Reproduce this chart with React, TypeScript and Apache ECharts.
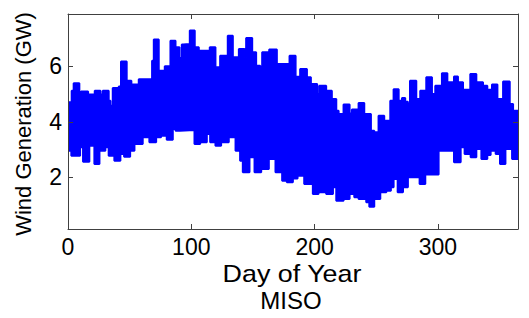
import React, { useEffect, useRef } from "react";
import * as echarts from "echarts";

// Upper envelope of the hourly wind generation band: [day, GW]
const upperDays = [0, 3.0, 4.6, 9.2, 10.6, 16.3, 21.7, 26.3, 28.2, 33.0, 34.4, 36.3, 41.2, 43.0, 47.6, 51.4, 52.2, 57.4, 68.2, 69.6, 73.6, 78.5, 83.1, 87.2, 90.4, 92.3, 93.4, 98.8, 102.8, 106.1, 115.0, 119.6, 123.4, 129.6, 133.7, 138.6, 143.2, 144.5, 149.4, 152.6, 155.9, 157.5, 163.2, 169.4, 179.7, 184.6, 188.3, 193.8, 197.0, 202.1, 203.8, 209.4, 214.0, 217.6, 219.5, 223.5, 228.4, 230.3, 235.7, 240.3, 245.7, 248.4, 251.9, 256.5, 261.4, 264.1, 268.2, 270.9, 273.5, 275.7, 277.4, 282.5, 285.7, 290.6, 295.2, 297.9, 303.3, 307.7, 313.1, 316.3, 320.4, 326.3, 331.2, 336.6, 340.1, 343.9, 348.3, 352.9, 358.3, 361.0, 365];
const upperVals = [4.70, 5.12, 5.39, 4.52, 5.09, 4.98, 5.12, 4.98, 5.12, 4.76, 4.58, 5.22, 5.27, 6.17, 5.48, 5.20, 5.34, 5.53, 6.20, 6.96, 5.84, 6.00, 6.92, 6.68, 6.30, 6.78, 6.80, 7.29, 6.68, 6.56, 6.68, 5.96, 6.38, 7.10, 6.32, 6.62, 6.32, 7.02, 6.50, 6.02, 5.84, 6.50, 6.60, 6.08, 6.38, 5.62, 5.90, 5.60, 5.36, 5.00, 5.30, 5.12, 4.82, 4.40, 4.28, 4.62, 4.30, 4.44, 4.68, 4.28, 3.68, 3.62, 4.22, 4.04, 4.76, 5.17, 4.76, 4.86, 4.72, 4.64, 5.48, 4.82, 5.12, 5.60, 5.00, 5.30, 5.75, 5.42, 5.63, 5.42, 5.15, 5.72, 5.42, 5.30, 5.15, 5.34, 4.82, 5.45, 4.64, 4.40, 4.40];

// Lower envelope of the band: [day, GW]
const lowerDays = [0, 2.7, 9.8, 12.2, 17.3, 21.4, 25.5, 30.3, 33.0, 37.6, 42.5, 45.5, 50.4, 53.9, 60.6, 66.0, 71.5, 75.5, 80.1, 85.0, 87.2, 90.7, 102.6, 107.2, 112.6, 115.3, 119.6, 124.2, 130.4, 135.9, 139.6, 141.8, 147.2, 151.3, 156.7, 162.9, 168.3, 173.7, 177.5, 182.4, 186.2, 191.6, 198.6, 203.2, 209.4, 214.9, 217.6, 223.5, 228.4, 232.2, 235.7, 241.9, 244.4, 248.4, 253.3, 258.2, 261.9, 264.1, 267.4, 271.7, 275.7, 285.2, 289.8, 300.6, 313.1, 318.5, 321.7, 326.6, 331.2, 335.3, 340.1, 342.8, 346.9, 350.4, 354.8, 360.2, 365];
const lowerVals = [2.96, 2.78, 3.08, 2.56, 3.14, 2.48, 2.96, 3.08, 2.78, 2.60, 2.84, 2.74, 2.96, 3.20, 3.44, 3.26, 3.44, 3.50, 3.35, 3.74, 3.68, 3.70, 3.20, 3.26, 3.56, 3.26, 3.14, 3.26, 3.44, 2.96, 2.60, 2.18, 2.72, 2.18, 2.30, 2.66, 2.18, 1.88, 1.82, 1.96, 2.06, 1.76, 1.40, 1.46, 1.40, 1.64, 1.16, 1.22, 1.40, 1.28, 1.22, 1.10, 0.94, 1.22, 1.46, 1.52, 1.64, 1.94, 1.46, 1.64, 2.00, 1.76, 2.10, 2.96, 2.54, 3.08, 2.84, 2.72, 3.02, 2.66, 2.80, 2.96, 2.84, 2.48, 3.02, 2.66, 2.66];

const xTicks = [0, 100, 200, 300];
const yTicks = [2, 4, 6];
const xLabel = "Day of Year";
const yLabel = "Wind Generation (GW)";
const subtitle = "MISO";

const FONT = "Liberation Sans, Arial, sans-serif";
const FRAME = "#404040";

export default function App() {
  const ref = useRef<HTMLDivElement>(null);
  useEffect(() => {
    if (!ref.current) return;
    const chart = echarts.init(ref.current, undefined, { renderer: "svg" });
    const upper = upperDays.map((d, i) => [d, upperVals[i]]);
    const lower = lowerDays.map((d, i) => [d, lowerVals[i]]);
    const axisCommon = {
      axisLine: { show: true, onZero: false, lineStyle: { color: FRAME, width: 1 } },
      splitLine: { show: false },
      z: 10,
    };
    chart.setOption({
      animation: false,
      backgroundColor: "#ffffff",
      grid: { left: 68, right: 11, top: 14, bottom: 89 },
      xAxis: [
        {
          type: "value", min: 0, max: 365, position: "bottom",
          ...axisCommon,
          axisTick: { show: true, inside: true, length: 5, customValues: xTicks, lineStyle: { color: FRAME } },
          axisLabel: { show: true, customValues: xTicks, margin: 6, fontFamily: FONT, fontSize: 23, color: "#000" },
        },
        {
          type: "value", min: 0, max: 365, position: "top",
          ...axisCommon,
          axisTick: { show: true, inside: true, length: 5, customValues: xTicks, lineStyle: { color: FRAME } },
          axisLabel: { show: false },
        },
      ],
      yAxis: [
        {
          type: "value", min: 0.14, max: 7.88, position: "left",
          ...axisCommon,
          axisTick: { show: true, inside: true, length: 5, customValues: yTicks, lineStyle: { color: FRAME } },
          axisLabel: { show: true, customValues: yTicks, margin: 6, fontFamily: FONT, fontSize: 23, color: "#000" },
        },
        {
          type: "value", min: 0.14, max: 7.88, position: "right",
          ...axisCommon,
          axisTick: { show: true, inside: true, length: 5, customValues: yTicks, lineStyle: { color: FRAME } },
          axisLabel: { show: false },
        },
      ],
      series: [
        {
          type: "line", xAxisIndex: 0, yAxisIndex: 0, data: upper, step: "end",
          symbol: "none", lineStyle: { color: "#0000ff", width: 2 },
          areaStyle: { color: "#0000ff", opacity: 1, origin: "start" },
          z: 2,
        },
        {
          type: "line", xAxisIndex: 0, yAxisIndex: 0, data: lower, step: "end",
          symbol: "none", lineStyle: { color: "#0000ff", width: 2 },
          areaStyle: { color: "#ffffff", opacity: 1, origin: "start" },
          z: 3,
        },
      ],
      graphic: [
        {
          type: "text", x: 23, y: 124, rotation: Math.PI / 2,
          style: { text: yLabel, font: `22px ${FONT}`, fill: "#000", align: "center", verticalAlign: "middle" },
        },
        {
          type: "text", x: 292, y: 262, scaleX: 1.12,
          style: { text: xLabel, font: `24px ${FONT}`, fill: "#000", align: "center", verticalAlign: "top" },
        },
        {
          type: "text", x: 291, y: 288,
          style: { text: subtitle, font: `24px ${FONT}`, fill: "#000", align: "center", verticalAlign: "top" },
        },
      ],
    });
    return () => chart.dispose();
  }, []);
  return <div ref={ref} style={{ position: "fixed", left: 0, top: 0, width: 529, height: 318 }} />;
}
